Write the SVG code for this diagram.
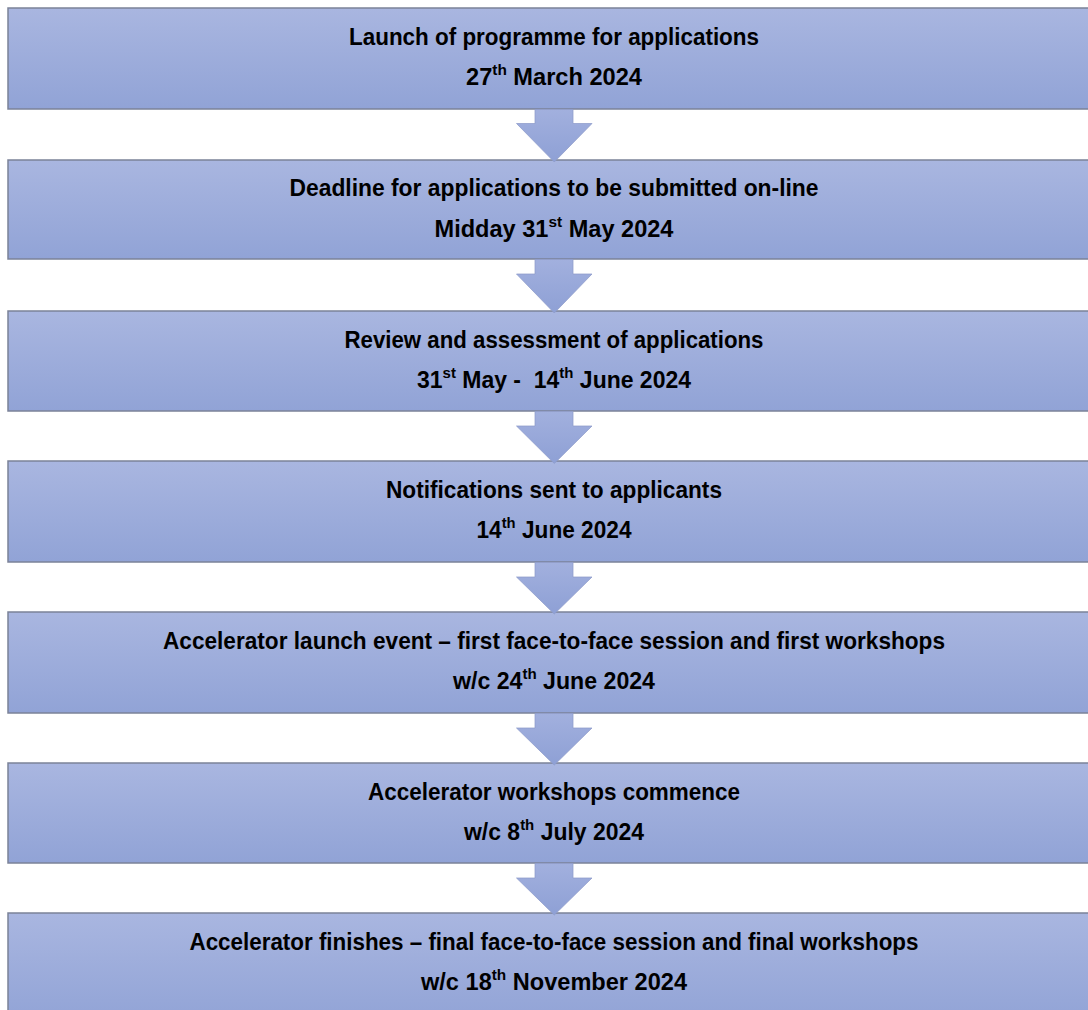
<svg xmlns="http://www.w3.org/2000/svg" width="1088" height="1010" viewBox="0 0 1088 1010">
<defs>
<linearGradient id="gb" x1="0" y1="0" x2="0" y2="1">
<stop offset="0" stop-color="#a9b6e0"/>
<stop offset="1" stop-color="#91a3d6"/>
</linearGradient>
<linearGradient id="ga" x1="0" y1="0" x2="0" y2="1">
<stop offset="0" stop-color="#a2b0de"/>
<stop offset="1" stop-color="#8ea0d5"/>
</linearGradient>
<style>
.box{fill:url(#gb);stroke:#7b8298;stroke-width:1.5}
.arrow{fill:url(#ga);stroke:#8e9bc9;stroke-width:0.75}
.t{font-family:"Liberation Sans",Arial,sans-serif;font-weight:bold;font-size:23px;fill:#000;text-anchor:middle}
.sup{font-size:15px}
</style>
</defs>
<rect width="1088" height="1010" fill="#ffffff"/>
<g id="node1">
<rect class="box" x="8" y="8" width="1100" height="101"/>
<text class="t" x="554" y="45" textLength="410" lengthAdjust="spacingAndGlyphs">Launch of programme for applications</text>
<text class="t" x="554" y="85" textLength="176" lengthAdjust="spacingAndGlyphs">27<tspan class="sup" dy="-10">th</tspan><tspan dy="10"> March 2024</tspan></text>
</g>
<g id="node2">
<rect class="box" x="8" y="160" width="1100" height="99"/>
<text class="t" x="554" y="196" textLength="529" lengthAdjust="spacingAndGlyphs">Deadline for applications to be submitted on-line</text>
<text class="t" x="554" y="237" textLength="239" lengthAdjust="spacingAndGlyphs">Midday 31<tspan class="sup" dy="-10">st</tspan><tspan dy="10"> May 2024</tspan></text>
</g>
<g id="node3">
<rect class="box" x="8" y="311" width="1100" height="100"/>
<text class="t" x="554" y="348" textLength="419" lengthAdjust="spacingAndGlyphs">Review and assessment of applications</text>
<text class="t" x="554" y="388" textLength="274" lengthAdjust="spacingAndGlyphs">31<tspan class="sup" dy="-10">st</tspan><tspan dy="10"> May -&#160; 14</tspan><tspan class="sup" dy="-10">th</tspan><tspan dy="10"> June 2024</tspan></text>
</g>
<g id="node4">
<rect class="box" x="8" y="461" width="1100" height="101"/>
<text class="t" x="554" y="498" textLength="336" lengthAdjust="spacingAndGlyphs">Notifications sent to applicants</text>
<text class="t" x="554" y="538" textLength="155" lengthAdjust="spacingAndGlyphs">14<tspan class="sup" dy="-10">th</tspan><tspan dy="10"> June 2024</tspan></text>
</g>
<g id="node5">
<rect class="box" x="8" y="612" width="1100" height="101"/>
<text class="t" x="554" y="649" textLength="782" lengthAdjust="spacingAndGlyphs">Accelerator launch event – first face-to-face session and first workshops</text>
<text class="t" x="554" y="689" textLength="202" lengthAdjust="spacingAndGlyphs">w/c 24<tspan class="sup" dy="-10">th</tspan><tspan dy="10"> June 2024</tspan></text>
</g>
<g id="node6">
<rect class="box" x="8" y="763" width="1100" height="100"/>
<text class="t" x="554" y="800" textLength="372" lengthAdjust="spacingAndGlyphs">Accelerator workshops commence</text>
<text class="t" x="554" y="840" textLength="180" lengthAdjust="spacingAndGlyphs">w/c 8<tspan class="sup" dy="-10">th</tspan><tspan dy="10"> July 2024</tspan></text>
</g>
<g id="node7">
<rect class="box" x="8" y="913" width="1100" height="110"/>
<text class="t" x="554" y="950" textLength="729" lengthAdjust="spacingAndGlyphs">Accelerator finishes – final face-to-face session and final workshops</text>
<text class="t" x="554" y="990" textLength="266" lengthAdjust="spacingAndGlyphs">w/c 18<tspan class="sup" dy="-10">th</tspan><tspan dy="10"> November 2024</tspan></text>
</g>
<g id="connectors">
<path class="arrow" d="M535,109.5 H573 V123.5 H592 L554.3,162 L516.5,123.5 H535 Z"/>
<path class="arrow" d="M535,259.5 H573 V274 H592 L554.3,313 L516.5,274 H535 Z"/>
<path class="arrow" d="M535,411.5 H573 V426 H592 L554.3,463.5 L516.5,426 H535 Z"/>
<path class="arrow" d="M535,562.5 H573 V577 H592 L554.3,614 L516.5,577 H535 Z"/>
<path class="arrow" d="M535,713.5 H573 V728 H592 L554.3,765 L516.5,728 H535 Z"/>
<path class="arrow" d="M535,863.5 H573 V878 H592 L554.3,915 L516.5,878 H535 Z"/>
</g>
</svg>
